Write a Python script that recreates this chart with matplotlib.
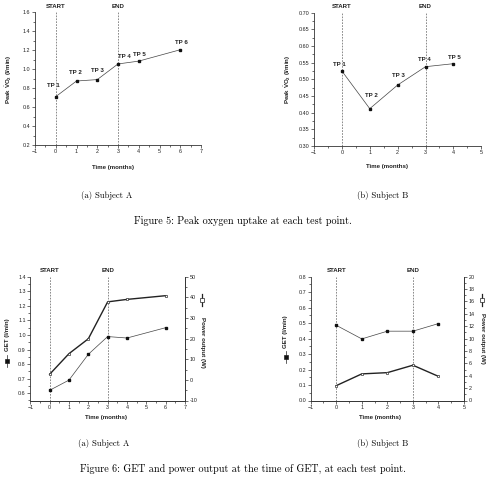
import matplotlib
matplotlib.use("Agg")
import matplotlib.pyplot as plt
from matplotlib.ticker import MultipleLocator, FormatStrFormatter
from matplotlib.lines import Line2D
import matplotlib.transforms as mtransforms

# ---------------- data ----------------
months_A = [0, 1, 2, 3, 4, 6]
peak_vo2_A = [0.71, 0.875, 0.89, 1.055, 1.085, 1.205]
tp_labels_A = ["TP 1", "TP 2", "TP 3", "TP 4", "TP 5", "TP 6"]

months_B = [0, 1, 2, 3, 4]
peak_vo2_B = [0.525, 0.412, 0.483, 0.538, 0.547]
tp_labels_B = ["TP 1", "TP 2", "TP 3", "TP 4", "TP 5"]

get_A = [0.62, 0.69, 0.867, 0.989, 0.979, 1.05]
power_A = [2.7, 12.7, 19.9, 37.8, 39.0, 40.8]

get_B = [0.486, 0.398, 0.448, 0.448, 0.497]
power_B = [2.4, 4.3, 4.5, 5.7, 3.9]

phase_x = [0, 3]
phase_labels = ["START", "END"]

W, H = 491, 478
fig = plt.figure(figsize=(W / 100, H / 100), dpi=100)

SANS = ["Liberation Sans", "DejaVu Sans"]
SERIF = ["cmr10", "DejaVu Serif"]
plt.rcParams["mathtext.fontset"] = "custom"
plt.rcParams["mathtext.rm"] = "Liberation Sans:bold"
plt.rcParams["mathtext.bf"] = "Liberation Sans:bold"
plt.rcParams["axes.formatter.use_mathtext"] = False

AXC = "#333333"
LINEC = "#444444"
DASHC = "#777777"
TXT = "#222222"
LAB_FS = 4.4


def add_axes_px(x0, x1, ytop, ybot):
    return fig.add_axes([x0 / W, 1 - ybot / H, (x1 - x0) / W, (ybot - ytop) / H])


def ftext(x, y, s, **kw):
    fig.text(x / W, 1 - y / H, s, **kw)


def style_axes(ax, right=False):
    ax.patch.set_alpha(0)
    for side in ["top", "right", "left", "bottom"]:
        ax.spines[side].set_color(AXC)
        ax.spines[side].set_linewidth(0.6)
    ax.spines["top"].set_visible(False)
    ax.spines["right"].set_visible(right)
    ax.tick_params(which="both", direction="out", colors=AXC, width=0.5,
                   labelsize=3.9, pad=1.2, labelcolor=TXT)
    ax.tick_params(which="major", length=2.0)
    ax.tick_params(which="minor", length=1.1)
    for lab in ax.get_xticklabels() + ax.get_yticklabels():
        lab.set_family(SANS)


def phase_lines(ax):
    trans = mtransforms.blended_transform_factory(ax.transData, ax.transAxes)
    for xv, lab in zip(phase_x, phase_labels):
        ax.axvline(xv, color=DASHC, lw=0.6, ls=(0, (2, 1.5)), zorder=1)
        ax.text(xv, 1.047, lab, transform=trans, ha="center", va="center",
                fontsize=LAB_FS, fontweight="bold", family=SANS, color=TXT)


def annotate_tps(ax, xs, ys, labels, offsets):
    for xv, yv, lab, (dx, dy) in zip(xs, ys, labels, offsets):
        ax.annotate(lab, (xv, yv), xytext=(dx * 0.72, dy * 0.72),
                    textcoords="offset points", ha="center", va="center",
                    fontsize=LAB_FS, fontweight="bold", family=SANS, color=TXT)


def legend_symbol(x, y0, y1, filled, lw):
    # short vertical line with a square marker in its middle (rotated legend key)
    fig.add_artist(Line2D([x / W, x / W], [1 - y0 / H, 1 - y1 / H],
                          transform=fig.transFigure, color="#222222", lw=lw))
    ym = (y0 + y1) / 2
    fig.add_artist(Line2D([x / W], [1 - ym / H], transform=fig.transFigure,
                          marker="s", ms=2.2, mfc="#111111" if filled else "white",
                          mec="#222222", mew=0.5, ls="none"))


# ---------------- Figure 5 (a) ----------------
ax = add_axes_px(35, 201, 12.3, 145)
ax.plot(months_A, peak_vo2_A, color=LINEC, lw=0.5, marker="s", ms=1.8,
        mfc="#111111", mec="#111111", zorder=3)
ax.set_xlim(-1, 7)
ax.set_ylim(0.2, 1.6)
ax.xaxis.set_major_locator(MultipleLocator(1))
ax.xaxis.set_minor_locator(MultipleLocator(0.5))
ax.yaxis.set_major_locator(MultipleLocator(0.2))
ax.yaxis.set_minor_locator(MultipleLocator(0.1))
ax.yaxis.set_major_formatter(FormatStrFormatter("%.1f"))
style_axes(ax)
phase_lines(ax)
annotate_tps(ax, months_A, peak_vo2_A, tp_labels_A,
             [(-2, 11), (-1, 9), (0, 9), (6.5, 7), (1, 7), (1.5, 7)])
ftext(9, 79, r"Peak $\dot{\mathrm{V}}\mathrm{O}_2$ (l/min)", rotation=90,
      ha="center", va="center", fontsize=LAB_FS, fontweight="bold", family=SANS, color=TXT)
ftext(112.7, 167, "Time (months)", ha="center", va="center", fontsize=LAB_FS,
      fontweight="bold", family=SANS, color=TXT)

# ---------------- Figure 5 (b) ----------------
ax = add_axes_px(314, 481.3, 12.7, 146)
ax.plot(months_B, peak_vo2_B, color=LINEC, lw=0.5, marker="s", ms=1.8,
        mfc="#111111", mec="#111111", zorder=3)
ax.set_xlim(-1, 5)
ax.set_ylim(0.30, 0.70)
ax.xaxis.set_major_locator(MultipleLocator(1))
ax.xaxis.set_minor_locator(MultipleLocator(0.5))
ax.yaxis.set_major_locator(MultipleLocator(0.05))
ax.yaxis.set_minor_locator(MultipleLocator(0.025))
ax.yaxis.set_major_formatter(FormatStrFormatter("%.2f"))
style_axes(ax)
phase_lines(ax)
annotate_tps(ax, months_B, peak_vo2_B, tp_labels_B,
             [(-2.5, 7), (2, 13), (1, 10), (-1, 7), (0.5, 6.5)])
ftext(288, 79, r"Peak $\dot{\mathrm{V}}\mathrm{O}_2$ (l/min)", rotation=90,
      ha="center", va="center", fontsize=LAB_FS, fontweight="bold", family=SANS, color=TXT)
ftext(386.7, 166.7, "Time (months)", ha="center", va="center", fontsize=LAB_FS,
      fontweight="bold", family=SANS, color=TXT)

# captions figure 5
ftext(106.7, 195, "(a) Subject A", ha="center", va="center", fontsize=6.2, family=SERIF)
ftext(382.3, 195, "(b) Subject B", ha="center", va="center", fontsize=6.2, family=SERIF)
ftext(242.7, 221, "Figure 5: Peak oxygen uptake at each test point.", ha="center",
      va="center", fontsize=7.3, family=SERIF)


# ---------------- Figure 6 ----------------
def get_power_panel(x0, x1, months, get_vals, power_vals, xmax, ylim_l, ylim_r,
                    l_major, l_minor, r_major, r_minor, xlab_x, lx, rx,
                    l_text_y, l_sym_y, r_text_y, r_sym_y):
    ax = add_axes_px(x0, x1, 276.7, 400.5)
    ax.plot(months, get_vals, color=LINEC, lw=0.5, marker="s", ms=1.9,
            mfc="#111111", mec="#111111", zorder=3)
    ax.set_xlim(-1, xmax)
    ax.set_ylim(*ylim_l)
    ax.xaxis.set_major_locator(MultipleLocator(1))
    ax.xaxis.set_minor_locator(MultipleLocator(0.5))
    ax.yaxis.set_major_locator(MultipleLocator(l_major))
    ax.yaxis.set_minor_locator(MultipleLocator(l_minor))
    ax.yaxis.set_major_formatter(FormatStrFormatter("%.1f"))
    style_axes(ax, right=True)
    phase_lines(ax)
    ax2 = ax.twinx()
    ax2.plot(months, power_vals, color="#222222", lw=1.0, marker="s", ms=1.9,
             mfc="white", mec="#333333", mew=0.5, zorder=3)
    ax2.set_ylim(*ylim_r)
    ax2.yaxis.set_major_locator(MultipleLocator(r_major))
    ax2.yaxis.set_minor_locator(MultipleLocator(r_minor))
    ax2.yaxis.set_major_formatter(FormatStrFormatter("%d"))
    style_axes(ax2, right=True)
    ax2.spines["left"].set_visible(False)
    ftext(xlab_x, 418, "Time (months)", ha="center", va="center", fontsize=LAB_FS,
          fontweight="bold", family=SANS, color=TXT)
    ftext(lx, l_text_y, "GET (l/min)", rotation=90,
          ha="center", va="center", fontsize=LAB_FS, fontweight="bold", family=SANS, color=TXT)
    legend_symbol(lx, l_sym_y - 6, l_sym_y + 6, True, 0.5)
    ftext(rx, r_text_y, "Power output (W)", rotation=270,
          ha="center", va="center", fontsize=LAB_FS, fontweight="bold", family=SANS, color=TXT)
    legend_symbol(rx, r_sym_y - 6, r_sym_y + 6, False, 0.9)


get_power_panel(30.3, 185, months_A, get_A, power_A, 7, (0.55, 1.4), (-10, 50),
                0.1, 0.05, 10, 5, 106, 7.3, 202, 335, 361, 342, 300)
get_power_panel(310.7, 464, months_B, get_B, power_B, 5, (0.0, 0.8), (0, 20),
                0.1, 0.05, 2, 1, 380, 285.7, 482.3, 331.5, 357, 338.7, 300)

ftext(103.3, 444, "(a) Subject A", ha="center", va="center", fontsize=6.2, family=SERIF)
ftext(383, 444, "(b) Subject B", ha="center", va="center", fontsize=6.2, family=SERIF)
ftext(242.7, 469, "Figure 6: GET and power output at the time of GET, at each test point.",
      ha="center", va="center", fontsize=7.3, family=SERIF)

fig.savefig("out.png", dpi=100)
